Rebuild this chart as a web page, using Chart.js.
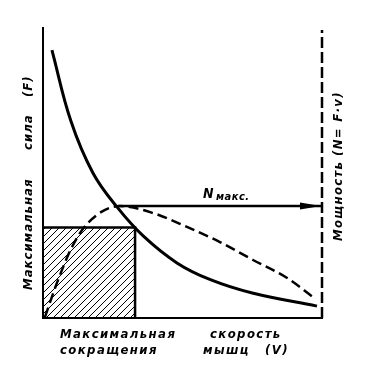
<!DOCTYPE html>
<html>
<head>
<meta charset="utf-8">
<script src="https://cdn.jsdelivr.net/npm/chart.js@4.4.0/dist/chart.umd.min.js"></script>
<style>
  html, body { margin: 0; padding: 0; background: #fff; }
  #wrap { width: 369px; height: 370px; }
</style>
</head>
<body>
<div id="wrap"><canvas id="graf"></canvas></div>
<script>
// скорость (v) и сила (F), в процентах от максимума
var forceV = [3.2, 10, 17.9, 26.5, 36, 48, 60, 75, 98.2];
var forceF = [92.4, 67.9, 50.0, 38.3, 28.2, 19.0, 13.2, 8.6, 4.1];
// мощность N = F*v
var powerV = [0.7, 5.0, 10.4, 16, 27.6, 39.4, 51.6, 63.4, 75.3, 87.5, 96.8];
var powerN = [0.3, 12.1, 24.5, 32.7, 38.6, 36.2, 31.4, 26.2, 20.0, 13.8, 7.2];
// заштрихованный прямоугольник
var rectV = [0, 33, 33];
var rectF = [31.2, 31.2, 0];
// N макс.
var nMaxV = [27, 100];
var nMax = 38.6;
// правая ось (мощность)
var rightV = [100, 100];
var rightY = [0, 99.3];

function pts(xs, ys){
    var out = [];
    for (var i = 0; i < xs.length; i++) out.push({x: xs[i], y: ys[i]});
    return out;
}

function hatch(){
    var c = document.createElement('canvas');
    c.width = 7; c.height = 7;
    var g = c.getContext('2d');
    g.strokeStyle = '#000';
    g.lineWidth = 1;
    g.beginPath();
    g.moveTo(-1, 8); g.lineTo(8, -1);
    g.moveTo(-1, 1); g.lineTo(1, -1);
    g.moveTo(6, 8); g.lineTo(8, 6);
    g.stroke();
    return g.createPattern(c, 'repeat');
}

var ctx = document.getElementById('graf').getContext('2d');

var labels = {
    id: 'labels',
    afterDraw: function(chart){
        var c = chart.ctx;
        var sx = chart.scales.x, sy = chart.scales.y;
        c.save();
        c.fillStyle = '#000';
        c.textBaseline = 'alphabetic';
        c.textAlign = 'left';

        // стрелка
        var xe = sx.getPixelForValue(nMaxV[1]);
        var yn = sy.getPixelForValue(nMax);
        c.beginPath();
        c.moveTo(xe - 1, yn);
        c.lineTo(xe - 22, yn - 3.5);
        c.lineTo(xe - 22, yn + 3.5);
        c.closePath();
        c.fill();

        c.font = 'italic bold 14px "DejaVu Sans Condensed", "DejaVu Sans"';
        c.fillText('N', 203, 198);
        c.font = 'italic bold 11px "DejaVu Sans Condensed", "DejaVu Sans"';
        c.letterSpacing = '0.5px';
        c.fillText('макс.', 216, 200);

        c.font = 'italic bold 13px "DejaVu Sans Condensed", "DejaVu Sans"';
        c.letterSpacing = '1.4px';
        // подписи снизу
        c.fillText('Максимальная', 60, 338);
        c.fillText('скорость', 210, 338);
        c.fillText('сокращения', 60, 354);
        c.fillText('мышц', 203, 354);
        c.fillText('(V)', 265, 354);

        c.letterSpacing = '1px';
        // левая подпись
        c.save();
        c.translate(32, 0);
        c.rotate(-Math.PI / 2);
        c.fillText('Максимальная', -290, 0);
        c.fillText('сила', -150, 0);
        c.fillText('(F)', -97, 0);
        c.restore();

        // правая подпись
        c.save();
        c.translate(342, 0);
        c.rotate(-Math.PI / 2);
        c.letterSpacing = '1.3px';
        c.fillText('Мощность', -241, 0);
        c.fillText('(N= F·v)', -156, 0);
        c.restore();
        c.restore();
    }
};

var myChart = new Chart(ctx, {
    type: 'scatter',
    plugins: [labels],
    data: {
        datasets: [
            {
                data: pts(rectV, rectF),
                showLine: true,
                borderColor: '#000',
                borderWidth: 2.5,
                backgroundColor: hatch(),
                fill: 'origin',
                pointRadius: 0,
                tension: 0,
                clip: false
            },
            {
                data: pts(forceV, forceF),
                showLine: true,
                borderColor: '#000',
                borderWidth: 3,
                pointRadius: 0,
                tension: 0.4,
                clip: false
            },
            {
                data: pts(powerV, powerN),
                showLine: true,
                borderColor: '#000',
                borderWidth: 2.5,
                borderDash: [10, 5],
                pointRadius: 0,
                cubicInterpolationMode: 'monotone',
                clip: false
            },
            {
                data: pts(nMaxV, [nMax, nMax]),
                showLine: true,
                borderColor: '#000',
                borderWidth: 2.5,
                pointRadius: 0,
                clip: false
            },
            {
                data: pts(rightV, rightY),
                showLine: true,
                borderColor: '#000',
                borderWidth: 2.5,
                borderDash: [11, 4],
                pointRadius: 0,
                clip: false
            }
        ]
    },
    options: {
        responsive: true,
        maintainAspectRatio: false,
        animation: false,
        layout: { padding: { left: 43, right: 47, top: 28, bottom: 52 } },
        plugins: { legend: { display: false }, tooltip: { enabled: false } },
        scales: {
            x: {
                type: 'linear', min: 0, max: 100,
                ticks: { display: false },
                grid: { display: false, drawTicks: false },
                border: { color: '#000', width: 2 }
            },
            y: {
                type: 'linear', min: 0, max: 100,
                ticks: { display: false },
                grid: { display: false, drawTicks: false },
                border: { color: '#000', width: 2 }
            }
        }
    }
});
</script>
</body>
</html>
